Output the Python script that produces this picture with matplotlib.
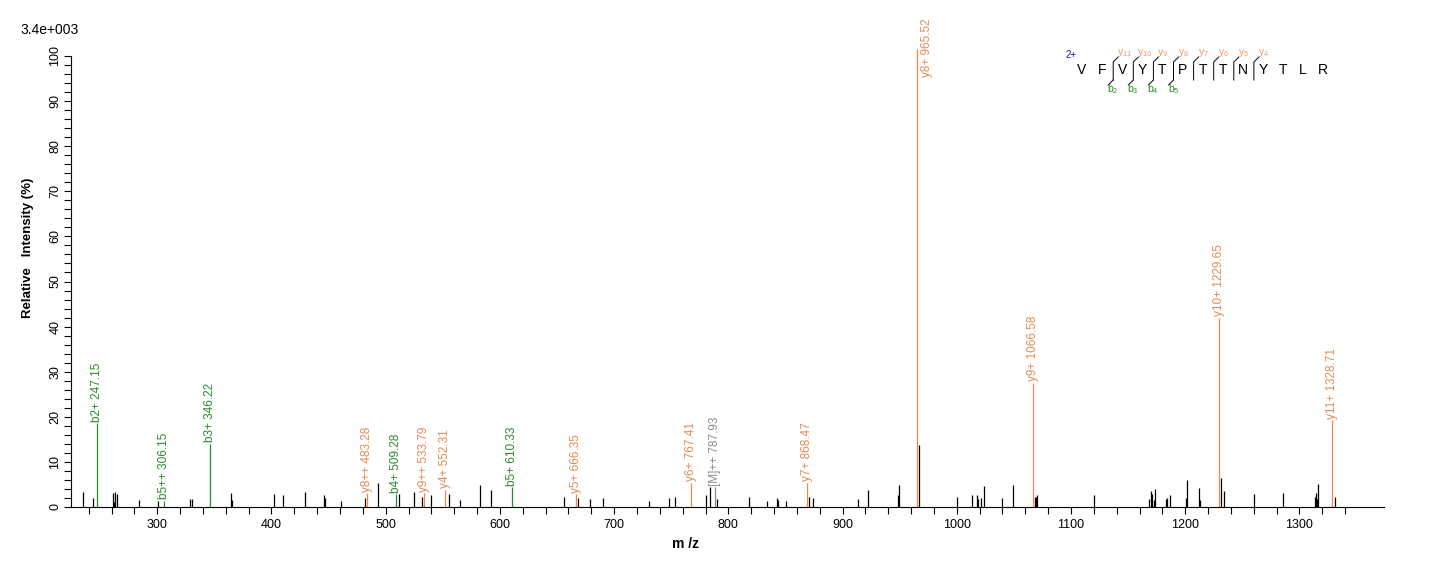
import matplotlib.pyplot as plt
from matplotlib.ticker import FixedLocator, MultipleLocator

plt.rcParams['font.family'] = ['Liberation Sans', 'DejaVu Sans']
plt.rcParams['mathtext.fontset'] = 'custom'
plt.rcParams['mathtext.rm'] = 'Liberation Sans'
plt.rcParams['mathtext.it'] = 'Liberation Sans'

# annotated fragment ions
ion_names = ['b2+', 'b5++', 'b3+', 'y8++', 'b4+', 'y9++', 'y4+', 'b5+', 'y5+',
             'y6+', '[M]++', 'y7+', 'y8+', 'y9+', 'y10+', 'y11+']
ion_mz = [247.15, 306.15, 346.22, 483.28, 509.28, 533.79, 552.31, 610.33, 666.35,
          767.41, 787.93, 868.47, 965.52, 1066.58, 1229.65, 1328.71]
ion_int = [18.6, 1.4, 14.0, 3.0, 2.9, 3.0, 3.8, 4.4, 2.9,
           5.4, 4.4, 5.4, 101.5, 27.6, 42.0, 19.3]
ion_kind = ['b', 'b', 'b', 'y', 'b', 'y', 'y', 'b', 'y',
            'y', 'm', 'y', 'y', 'y', 'y', 'y']

# unassigned peaks
peak_mz = [235.1, 243.9, 261.4, 262.3, 263.2, 264.9, 284.2, 300.8, 328.8, 330.6,
           364.2, 365.6, 402.4, 410.3, 429.6, 445.7, 447.1, 460.5, 481.6, 493.5,
           511.9, 524.7, 532.0, 539.9, 555.6, 565.3, 582.5, 592.6, 656.3, 668.6,
           679.1, 689.9, 730.2, 748.3, 753.5, 780.2, 784.2, 789.8, 817.8, 834.1,
           842.9, 843.7, 850.7, 870.3, 874.4, 913.8, 922.6, 948.3, 949.2, 966.5,
           999.9, 1013.6, 1017.4, 1018.3, 1020.9, 1023.6, 1039.3, 1049.5, 1068.3, 1069.4,
           1070.5, 1120.4, 1168.6, 1170.3, 1171.2, 1173.0, 1173.9, 1183.0, 1184.4, 1187.0,
           1201.0, 1201.9, 1212.4, 1213.3, 1231.7, 1233.5, 1260.6, 1286.0, 1313.5, 1314.4,
           1315.2, 1316.1, 1330.7]
peak_int = [3.3, 2.0, 3.1, 1.2, 3.3, 2.8, 1.6, 1.3, 1.8, 1.8,
            3.0, 1.6, 2.9, 2.6, 3.3, 2.6, 2.1, 1.3, 2.1, 5.3,
            2.9, 3.3, 2.3, 2.6, 2.9, 1.6, 4.9, 3.8, 2.3, 2.1,
            1.8, 2.1, 1.3, 2.1, 2.3, 2.6, 4.5, 1.8, 2.3, 1.3,
            2.1, 1.6, 1.3, 2.3, 2.1, 1.8, 3.8, 2.6, 4.9, 13.8,
            2.3, 2.6, 2.6, 1.8, 2.1, 4.7, 2.1, 4.9, 2.3, 2.3,
            2.7, 2.6, 1.8, 3.6, 2.8, 1.5, 4.0, 1.8, 2.1, 2.6,
            2.1, 5.9, 4.2, 1.5, 6.5, 3.5, 2.8, 3.0, 2.3, 3.0,
            1.7, 5.0, 2.3]

sequence = 'VFVYTPTTNYTLR'
y_series = ['11', '10', '9', '8', '7', '6', '5', '4']
b_series = ['2', '3', '4', '5']

colors = {'b': '#2a8a2a', 'y': '#e58a52', 'm': '#8c8c8c'}

W, H = 1436, 566
fig = plt.figure(figsize=(W / 100, H / 100), dpi=100)
ax = fig.add_axes([71 / W, 59 / H, (1384 - 71) / W, (507 - 56) / H])

ax.vlines(peak_mz, 0, peak_int, color='black', lw=0.9)
for name, mz, inten, kind in zip(ion_names, ion_mz, ion_int, ion_kind):
    c = colors[kind]
    ax.vlines(mz, 0, inten, color=c, lw=0.9, clip_on=False)
    if inten > 95:
        off = (7, -20)
    else:
        off = (0, 1)
    ax.annotate(f'{name} {mz:.2f}', (mz, inten), xytext=off, textcoords='offset points',
                rotation=90, ha='center', va='bottom', color=c, fontsize=8.5,
                annotation_clip=False)

ax.set_xlim(224.5, 1374)
ax.set_ylim(0, 100)
ax.spines['top'].set_visible(False)
ax.spines['right'].set_visible(False)
ax.xaxis.set_major_locator(FixedLocator(range(300, 1301, 100)))
ax.xaxis.set_minor_locator(FixedLocator(range(240, 1341, 20)))
ax.yaxis.set_major_locator(MultipleLocator(10))
ax.yaxis.set_minor_locator(MultipleLocator(2))
ax.tick_params(which='both', length=5, width=0.8, labelsize=9, direction='out')
ax.tick_params(axis='y', pad=2)
for lab in ax.get_yticklabels():
    lab.set_rotation(90)
    lab.set_va('center')

fig.text(20 / W, 1 - 30 / H, '3.4e+003', fontsize=10, va='center', ha='left')
fig.text(28 / W, 1 - 248 / H, 'Relative   Intensity (%)', rotation=90, fontsize=9.5,
         fontweight='bold', ha='center', va='center')
fig.text(685 / W, 1 - 544 / H, 'm /z', fontsize=10, fontweight='bold', ha='center', va='center')

# peptide fragment map, in pixel coordinates
ov = fig.add_axes([0, 0, 1, 1])
ov.set_xlim(0, W)
ov.set_ylim(H, 0)
ov.axis('off')
x0, dx = 1082, 20.1
ov.text(1066, 55, '2+', fontsize=7, color='#1a1a8c', ha='left', va='center')
for i, aa in enumerate(sequence):
    ov.text(x0 + i * dx, 70, aa, fontsize=10, ha='center', va='center')
for j, num in enumerate(y_series):
    xc = x0 + (j + 2) * dx - 9
    ov.plot([xc, xc, xc + 5], [80, 62, 57], color='black', lw=0.7)
    ov.text(xc + 4, 53, r'y$_{' + num + '}$', fontsize=7.5, color='#f09a70',
            ha='left', va='center')
for j, num in enumerate(b_series):
    xc = x0 + (j + 2) * dx - 9
    ov.plot([xc, xc - 5], [80, 85], color='black', lw=0.7)
    ov.text(xc - 6, 89, r'b$_{' + num + '}$', fontsize=7.5, color='#2a8a2a',
            ha='left', va='center')

fig.savefig('out.png', dpi=100)
